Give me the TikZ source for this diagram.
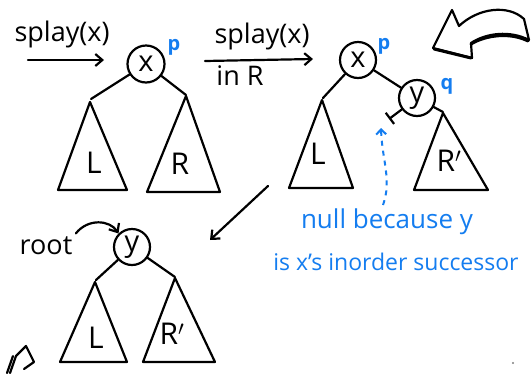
\documentclass[tikz,border=0pt]{standalone}
\usepackage{fontspec}
\setmainfont{Open Sans}
\usetikzlibrary{arrows.meta}
\definecolor{inkblue}{RGB}{20,125,240}
\tikzset{
  ink/.style={line width=2.2pt, line cap=round, line join=round},
  treenode/.style={ink, draw, circle, minimum size=37pt, inner sep=0pt, font=\fontsize{29}{29}\selectfont},
  subtree/.style={ink, draw},
  sublabel/.style={font=\fontsize{30}{30}\selectfont},
  bluelabel/.style={text=inkblue, font=\bfseries\fontsize{20}{20}\selectfont},
  handtext/.style={font=\fontsize{27}{27}\selectfont},
  bluetext/.style={text=inkblue, font=\fontsize{23}{23}\selectfont},
  arr/.style={ink, -{Straight Barb[length=7pt,width=12pt]}}
}
\begin{document}
\begin{tikzpicture}[x=1pt,y=-1pt]
\useasboundingbox (0,0) rectangle (532,373);
\fill[white] (0,0) rectangle (532,373);

% first tree
\node[handtext] (t1) at (62,34) {splay(x)};
\coordinate (a1s) at (28,60);
\coordinate (a1e) at (104,60);
\draw[arr] (a1s) -- (a1e);
\node[treenode] (x1) at (146,64) {x};
\node[bluelabel] (p1) at (174,47) {p};
\coordinate (l1) at (91,99);
\coordinate (r1) at (186,95);
\draw[ink] (x1) -- (l1);
\draw[ink] (x1) -- (r1);
\draw[subtree] (90,102) -- (58,190) -- (127,190) -- cycle;
\draw[subtree] (186,96) -- (147,192) -- (220,192) -- cycle;
\node[sublabel] (L1) at (94,163) {L};
\node[sublabel] (R1) at (180,164) {R};

% second arrow
\node[handtext] (t2) at (262,36) {splay(x)};
\node[handtext] (t3) at (240,76) {in R};
\coordinate (a2s) at (205,61);
\coordinate (a2e) at (313,59);
\draw[arr] (a2s) -- (a2e);

% second tree
\node[treenode, minimum size=36pt] (x2) at (358,60) {x};
\node[bluelabel] (p2) at (384,46) {p};
\node[treenode, minimum size=36pt] (y2) at (417,98) {y};
\node[bluelabel] (q2) at (447,86) {q};
\draw[ink] (x2) -- (y2);
\coordinate (l2) at (323,98);
\coordinate (r2) at (443,112);
\coordinate (n2) at (389,119);
\draw[ink] (x2) -- (l2);
\draw[ink] (y2) -- (r2);
\draw[ink, -{Bar[width=14pt]}] (y2) -- (n2);
\draw[subtree] (322,100) -- (289,188) -- (353,188) -- cycle;
\draw[subtree] (443,113) -- (414,190) -- (488,190) -- cycle;
\node[sublabel] (L2) at (318,154) {L};
\node[sublabel] (R2) at (449,161) {R$'$};

% blue dotted arrow
\coordinate (bd1) at (383,205);
\coordinate (bd2) at (381,128);
\draw[inkblue, line width=2pt, dash pattern=on 5pt off 5pt, -{Straight Barb[length=5pt,width=10pt]}]
  (bd1) .. controls (392,180) and (382,160) .. (bd2);

% blue text
\node[bluetext, font=\fontsize{26}{26}\selectfont] (nb1) at (387,222) {null because y};
\node[bluetext] (nb2) at (396,262) {is x's inorder successor};

% big curved arrow (top right)
\draw[ink, fill=white] (433,48) -- (452,10) -- (459,26)
  .. controls (478,8) and (508,4) .. (524,19) -- (529,40)
  .. controls (510,30) and (486,33) .. (471,43) -- (472,58) -- cycle;
\draw[line width=3pt, line cap=round] (471,44) .. controls (486,35) and (510,32) .. (528,41);
\draw[line width=3pt, line cap=round] (434,49) -- (471,58);

% diagonal arrow
\coordinate (d1) at (268,186);
\coordinate (d2) at (210,240);
\draw[arr] (d1) -- (d2);

% third tree
\node[handtext] (root) at (46,246) {root};
\node[treenode, minimum size=36pt] (y3) at (132,247) {y};
\draw[arr] (root.north east) .. controls (88,218) and (110,220) .. (y3.north west);
\coordinate (l3) at (96,280);
\coordinate (r3) at (175,277);
\draw[ink] (y3) -- (l3);
\draw[ink] (y3) -- (r3);
\draw[subtree] (95,282) -- (60,362) -- (127,362) -- cycle;
\draw[subtree] (175,278) -- (143,362) -- (215,362) -- cycle;
\node[sublabel] (L3) at (96,338) {L};
\node[sublabel] (R3) at (172,334) {R$'$};

% partial arrow bottom-left
\draw[ink] (7,373) -- (13,356);
\draw[ink] (10,373) -- (16,356) -- (26,346) -- (34,362) -- (24,369);
% grey dot
\fill[gray] (513,363) circle (1.2pt);
\end{tikzpicture}
\end{document}
